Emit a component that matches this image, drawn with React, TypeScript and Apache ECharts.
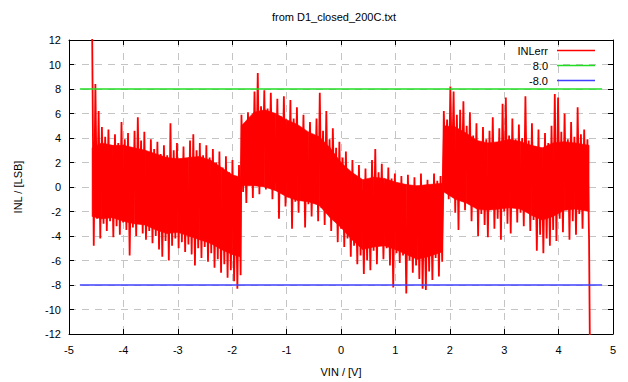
import React, { useEffect, useRef } from "react";
import * as echarts from "echarts";

const TITLE = "from D1_closed_200C.txt";
const X_NAME = "VIN / [V]";
const Y_NAME = "INL / [LSB]";
const X_MIN = -5;
const X_MAX = 5;
const X_INTERVAL = 1;
const Y_MIN = -12;
const Y_MAX = 12;
const Y_INTERVAL = 2;

const SERIES_NAMES = ["INLerr", "8.0", "-8.0"];

// INL samples (alternating local maxima / minima)
const VIN_STEP = 0.03;
const SEG1_START = -4.575;
const SEG1 = [
  13, -4.8, 8.4, -2.6, 6.2, -4.2, 4.9, -3.0, 4.1, -3.6, 4.7, -2.8, 3.4, -4.1, 4.3, -3.2, 3.6, -3.9, 5.3, -2.9,
  3.9, -3.5, 4.4, -5.6, 3.2, -3.3, 4.6, -4.0, 5.7, -2.7, 3.8, -3.8, 4.5, -4.3, 2.8, -3.6, 3.9, -4.6, 3.1, -4.0,
  3.7, -5.1, 2.7, -5.7, 3.4, -4.4, 2.6, -6.0, 5.2, -4.8, 3.0, -4.2, 3.6, -5.0, 2.3, -4.5, 3.3, -5.3, 2.1, -4.7,
  3.8, -5.5, 4.3, -6.4, 3.0, -5.0, 3.6, -5.8, 2.6, -4.9, 3.4, -6.1, 2.4, -5.4, 3.1, -6.6, 2.0, -5.9, 2.9, -7.0,
  1.6, -6.3, 2.5, -7.4, 1.2, -6.8, 2.2, -7.7, 0.9, -8.3, 1.8, -7.2,
];
const SEG2_START = -1.83;
const SEG2 = [
  5.9, -0.4, 5.0, -1.3, 6.1, 0.2, 5.4, -0.9, 7.8, 0.4, 9.3, -0.6, 6.6, 0.8, 7.9, -0.2, 6.4, 0.9, 7.7, -1.0,
  6.0, 0.3, 7.2, -2.6, 5.8, -0.5, 7.4, -1.6, 5.2, -0.8, 7.1, -3.4, 5.6, -1.2, 6.5, -2.1, 4.9, -0.6, 5.9, -3.3,
  4.1, -1.4, 5.3, -2.4, 3.8, -0.9, 5.6, -2.8, 7.7, -1.7, 4.6, -3.1, 6.2, -2.0, 3.9, -3.6, 4.8, -2.6, 3.2, -4.5,
  3.7, -3.4, 2.4, -4.9, 2.9, -4.2, 1.3, -5.7, 2.2, -4.8, 0.6, -6.3, 1.8, -5.6, -0.2, -7.1, 1.5, -6.0, 0.4, -6.8,
  2.2, -5.2, 3.1, -6.3, 1.2, -4.7, 1.9, -5.9, 0.3, -5.0, 1.6, -6.4, 0.7, -8.2, 1.1, -5.4, -0.3, -6.2, 0.9, -5.6,
  0.2, -8.7, 1.0, -6.0, -0.5, -7.0, 0.8, -6.4, 0.1, -7.5, 1.1, -8.3, -0.4, -8.4, 0.6, -6.9, 0.0, -7.6, 1.1, -5.8,
  0.5, -7.3, 0.9, -6.1,
];
const SEG3_START = 1.89;
const SEG3 = [
  6.2, 0.6, 5.5, -1.0, 8.2, 0.9, 7.8, -2.1, 5.9, -3.5, 6.3, -0.4, 7.0, -1.9, 5.0, -0.6, 6.1, -2.8, 4.2, -1.3,
  5.2, -4.0, 3.7, -2.2, 4.9, -3.1, 3.9, -4.1, 4.6, -1.8, 5.7, -3.4, 3.6, -2.6, 4.8, -4.3, 6.8, -2.0, 7.3, -3.0,
  4.2, -3.8, 5.6, -1.6, 3.9, -2.9, 5.1, -2.1, 4.0, -3.2, 7.4, -1.9, 3.8, -3.6, 5.2, -2.7, 3.3, -5.2, 4.7, -3.9,
  3.1, -5.4, 4.4, -4.2, 3.6, -4.8, 5.0, -3.5, 7.6, -4.4, 7.3, -2.6, 4.5, -3.7, 6.0, -1.9, 3.9, -4.3, 5.3, -2.8,
  4.1, -3.9, 6.5, -2.2, 4.3, -3.4, 4.7, -1.7, 3.9, -4.3,
];
const END_POINT: [number, number] = [4.575, -13];

// Dense core of the INL noise band (solid red region)
const CORE_V = [
  -4.575, -4.4, -4.2, -4.0, -3.8, -3.6, -3.4, -3.2, -3.0, -2.8, -2.6, -2.4, -2.2, -2.0, -1.85,
  -1.83, -1.6, -1.4, -1.2, -1.0, -0.8, -0.6, -0.4, -0.2, 0.0, 0.2, 0.4, 0.6, 0.8, 1.0, 1.2, 1.4, 1.6, 1.86,
  1.89, 2.1, 2.3, 2.5, 2.7, 2.9, 3.1, 3.3, 3.5, 3.7, 3.9, 4.1, 4.3, 4.56,
];
const CORE_LO = [
  -2.4, -2.6, -2.5, -2.8, -3.0, -3.1, -3.5, -3.8, -3.7, -4.0, -4.3, -4.6, -5.1, -5.5, -5.7,
  0.1, 0.1, 0.0, -0.3, -0.8, -1.1, -1.2, -1.5, -2.5, -3.3, -4.3, -5.1, -4.9, -4.8, -5.1, -5.5, -5.9, -5.7, -5.3,
  -0.4, -1.0, -1.3, -1.8, -1.9, -1.8, -1.7, -1.8, -2.3, -2.7, -2.4, -1.9, -1.8, -2.0,
];
const CORE_HI = [
  3.2, 3.6, 3.4, 3.4, 3.2, 3.0, 2.7, 2.4, 2.3, 2.4, 2.5, 2.2, 1.6, 1.0, 0.8,
  5.0, 6.1, 6.3, 6.0, 5.5, 5.1, 4.5, 4.1, 3.2, 2.0, 1.2, 0.6, 0.8, 0.7, 0.4, 0.2, 0.1, 0.2, 0.3,
  5.0, 4.9, 4.4, 3.8, 3.6, 3.7, 3.9, 3.7, 3.4, 3.2, 3.6, 3.7, 3.6, 3.4,
];

const LIMIT_HI = 8.0;
const LIMIT_LO = -8.0;
const LIMIT_X = [-4.8, 4.8];

const FONT = "'Liberation Sans', Arial, Helvetica, sans-serif";
const RED = "#ff0000";

function seg(start: number, vals: number[]): [number, number][] {
  return vals.map((v, i) => [start + i * VIN_STEP, v]);
}

export default function App() {
  const ref = useRef<HTMLDivElement>(null);
  useEffect(() => {
    if (!ref.current) return;
    const chart = echarts.init(ref.current, null, { renderer: "svg" });
    const inl = [
      ...seg(SEG1_START, SEG1),
      ...seg(SEG2_START, SEG2),
      ...seg(SEG3_START, SEG3),
      END_POINT,
    ];
    const coreQuads = CORE_V.slice(0, -1).map((v, i) => [
      v, CORE_LO[i], CORE_HI[i], CORE_V[i + 1], CORE_LO[i + 1], CORE_HI[i + 1],
    ]);
    const axisCommon = {
      type: "value" as const,
      axisLine: { show: true, onZero: false, lineStyle: { color: "#000", width: 1 } },
      axisTick: { show: true, inside: true, length: 5, lineStyle: { color: "#000", width: 1 } },
    };
    const grid = { color: "#c4c4c4", type: [7, 6] as number[], width: 1 };
    const legendCommon = {
      orient: "horizontal" as const,
      align: "right" as const,
      right: 33,
      itemWidth: 38,
      itemHeight: 1.5,
      icon: "rect",
      padding: 0,
      selectedMode: false,
      textStyle: { color: "#000", fontSize: 11, fontFamily: FONT, padding: [0, 4, 0, 0] },
    };
    chart.setOption({
      animation: false,
      backgroundColor: "#fff",
      grid: { left: 69, right: 15, top: 40, bottom: 48 },
      xAxis: [
        {
          ...axisCommon,
          min: X_MIN,
          max: X_MAX,
          interval: X_INTERVAL,
          position: "bottom",
          axisLabel: { color: "#000", fontSize: 11, fontFamily: FONT, margin: 10 },
          splitLine: { show: true, lineStyle: grid },
        },
        {
          ...axisCommon,
          min: X_MIN,
          max: X_MAX,
          interval: X_INTERVAL,
          position: "top",
          axisLabel: { show: false },
          splitLine: { show: false },
        },
      ],
      yAxis: [
        {
          ...axisCommon,
          min: Y_MIN,
          max: Y_MAX,
          interval: Y_INTERVAL,
          position: "left",
          axisLabel: { color: "#000", fontSize: 11, fontFamily: FONT, margin: 8 },
          splitLine: { show: true, lineStyle: grid },
        },
        {
          ...axisCommon,
          min: Y_MIN,
          max: Y_MAX,
          interval: Y_INTERVAL,
          position: "right",
          axisLabel: { show: false },
          splitLine: { show: false },
        },
      ],
      legend: [
        { ...legendCommon, top: 45, data: [SERIES_NAMES[0]] },
        { ...legendCommon, top: 60, data: [SERIES_NAMES[1]] },
        { ...legendCommon, top: 75, data: [SERIES_NAMES[2]] },
      ],
      series: [
        {
          name: "core",
          type: "custom",
          data: coreQuads,
          encode: { x: [0, 3], y: [1, 2, 4, 5] },
          silent: true,
          z: 1,
          renderItem: (_params: any, api: any) => {
            const a = api.coord([api.value(0), api.value(1)]);
            const b = api.coord([api.value(0), api.value(2)]);
            const c = api.coord([api.value(3), api.value(5)]);
            const d = api.coord([api.value(3), api.value(4)]);
            return {
              type: "polygon",
              shape: { points: [a, b, c, d] },
              style: { fill: RED, stroke: RED, lineWidth: 0.6 },
            };
          },
        },
        {
          name: SERIES_NAMES[0],
          type: "line",
          data: inl,
          symbol: "none",
          clip: true,
          color: RED,
          lineStyle: { color: RED, width: 1.8 },
          z: 2,
        },
        {
          name: SERIES_NAMES[1],
          type: "line",
          data: LIMIT_X.map((x) => [x, LIMIT_HI]),
          symbol: "none",
          color: "#22dd22",
          lineStyle: { color: "#22dd22", width: 1.5 },
          z: 3,
        },
        {
          name: SERIES_NAMES[2],
          type: "line",
          data: LIMIT_X.map((x) => [x, LIMIT_LO]),
          symbol: "none",
          color: "#4040ff",
          lineStyle: { color: "#4040ff", width: 1.5 },
          z: 3,
        },
      ],
      graphic: [
        {
          type: "text",
          x: 334,
          y: 17,
          style: { text: TITLE, fill: "#000", fontSize: 11, fontFamily: FONT, textAlign: "center", textVerticalAlign: "middle" },
        },
        {
          type: "text",
          x: 341,
          y: 372,
          style: { text: X_NAME, fill: "#000", fontSize: 11, fontFamily: FONT, textAlign: "center", textVerticalAlign: "middle" },
        },
        {
          type: "text",
          x: 18,
          y: 187,
          rotation: Math.PI / 2,
          style: { text: Y_NAME, fill: "#000", fontSize: 11, fontFamily: FONT, textAlign: "center", textVerticalAlign: "middle" },
        },
      ],
    });
    return () => chart.dispose();
  }, []);
  return (
    <div
      ref={ref}
      style={{ position: "fixed", left: 0, top: 0, width: 628, height: 382, background: "#fff" }}
    />
  );
}
